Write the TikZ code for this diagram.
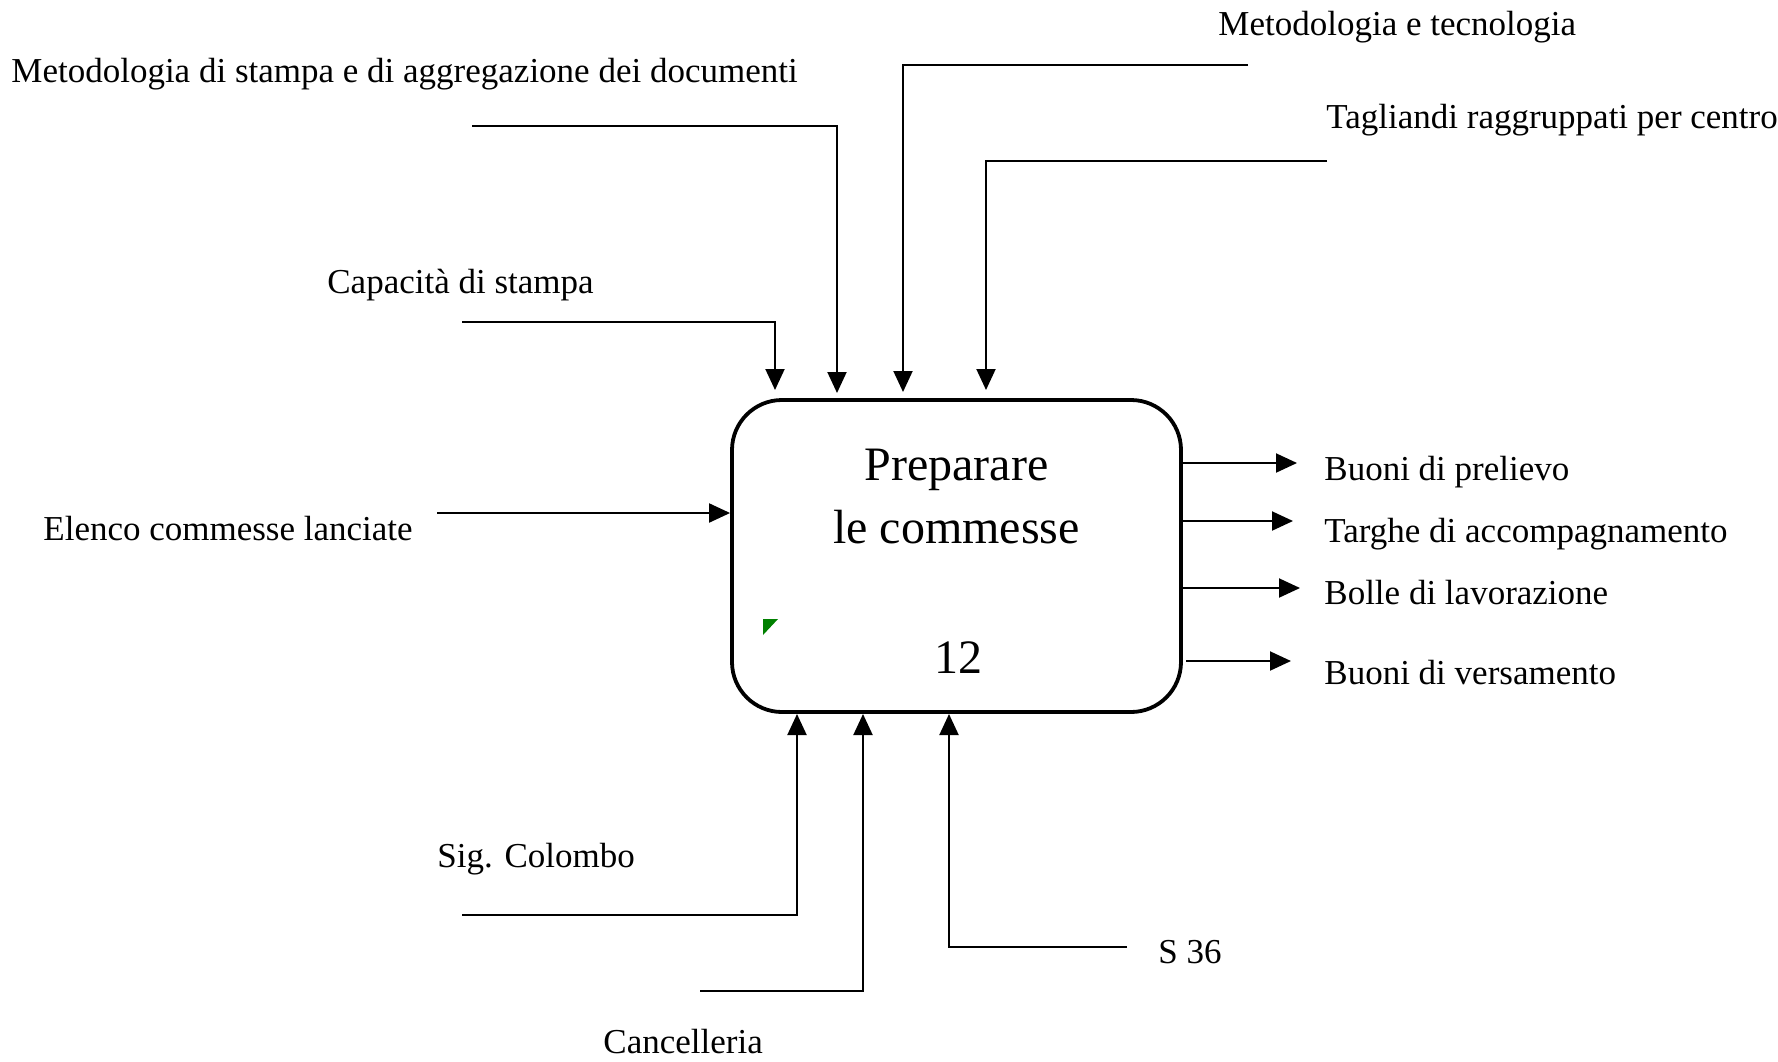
\documentclass[tikz,border=0pt]{standalone}
\usepackage{fontspec}
\setmainfont{Liberation Serif}
\usetikzlibrary{arrows.meta}
\definecolor{mkgreen}{RGB}{0,128,0}
\begin{document}
\begin{tikzpicture}[x=0.5pt,y=-0.5pt,
  lbl/.style={anchor=base west,inner sep=0pt,font=\fontsize{17.5}{20}\selectfont},
  ttl/.style={anchor=base,inner sep=0pt,font=\fontsize{24}{28}\selectfont},
  conn/.style={line width=1pt,-{Triangle[length=10.5pt,width=9.5pt]}},
  proc/.style={draw,line width=1.9pt,rounded corners=25pt,minimum width=224.5pt,minimum height=156pt,inner sep=0pt}]
\useasboundingbox (0,0) rectangle (1778,1061);
% process box
\node[proc] (P) at (956.5,556) {};
\node[ttl] (t1) at (956.5,480) {Preparare};
\node[ttl] (t2) at (956.5,543) {le commesse};
\node[ttl] (t3) at (958,673) {12};
\fill[mkgreen] (763,619) -- (778,619) -- (763,635) -- cycle;
% top controls
\node[lbl] (lmet) at (11,82) {Metodologia di stampa e di aggregazione dei documenti};
\node[lbl] (lcap) at (327,293) {Capacità di stampa};
\node[lbl] (lmt) at (1218,35) {Metodologia e tecnologia};
\node[lbl] (ltag) at (1326,128) {Tagliandi raggruppati per centro};
\coordinate (scap) at (462,322); \coordinate (ecap) at (775,390);
\coordinate (smet) at (472,126); \coordinate (emet) at (837,393);
\coordinate (smt) at (1248,65);  \coordinate (emt) at (903,392);
\coordinate (stag) at (1327,161); \coordinate (etag) at (986,390);
\draw[conn] (scap) -| (ecap);
\draw[conn] (smet) -| (emet);
\draw[conn] (smt) -| (emt);
\draw[conn] (stag) -| (etag);
% left input
\node[lbl] (lel) at (43,540) {Elenco commesse lanciate};
\coordinate (sel) at (437,513);
\draw[conn] (sel) -- (sel -| P.west);
% outputs
\coordinate (o1s) at (1181,463); \coordinate (o1e) at (1297,463);
\coordinate (o2s) at (1181,521); \coordinate (o2e) at (1293,521);
\coordinate (o3s) at (1181,588); \coordinate (o3e) at (1300,588);
\coordinate (o4s) at (1186,661); \coordinate (o4e) at (1291,661);
\draw[conn] (o1s) -- (o1e);
\draw[conn] (o2s) -- (o2e);
\draw[conn] (o3s) -- (o3e);
\draw[conn] (o4s) -- (o4e);
\node[lbl] (lo1) at (1324,480) {Buoni di prelievo};
\node[lbl] (lo2) at (1324,542) {Targhe di accompagnamento};
\node[lbl] (lo3) at (1324,604) {Bolle di lavorazione};
\node[lbl] (lo4) at (1324,684) {Buoni di versamento};
% mechanisms
\node[lbl] (lcol) at (437,867) {Sig. Colombo};
\node[lbl] (lcan) at (603,1053) {Cancelleria};
\node[lbl] (ls36) at (1158,963) {S 36};
\coordinate (scol) at (462,915); \coordinate (ecol) at (797,714);
\coordinate (scan) at (700,991); \coordinate (ecan) at (863,714);
\coordinate (ss36) at (1127,947); \coordinate (es36) at (949,714);
\draw[conn] (scol) -| (ecol);
\draw[conn] (scan) -| (ecan);
\draw[conn] (ss36) -| (es36);
\end{tikzpicture}
\end{document}
